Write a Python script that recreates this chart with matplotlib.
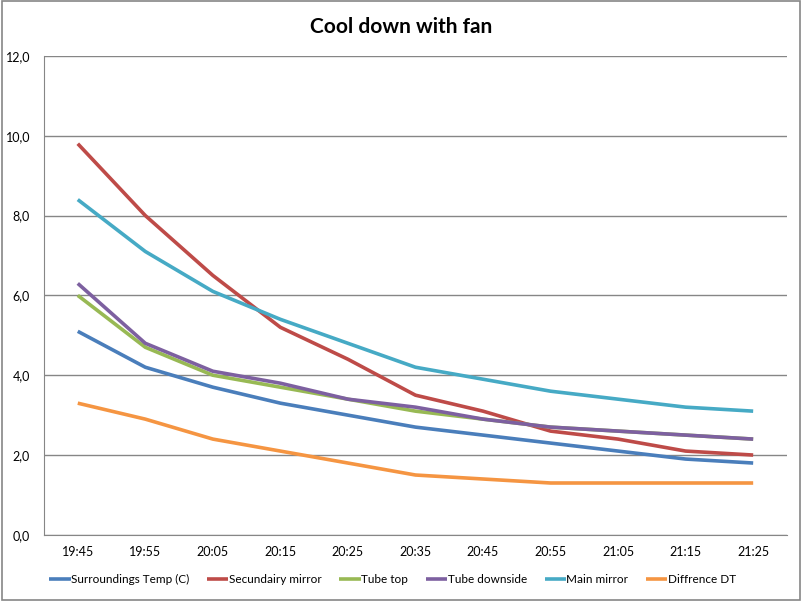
import matplotlib
matplotlib.use("Agg")
import matplotlib.pyplot as plt
from matplotlib.patches import Rectangle

plt.rcParams['font.family'] = ['Lato', 'DejaVu Sans']

times = ["19:45", "19:55", "20:05", "20:15", "20:25", "20:35",
         "20:45", "20:55", "21:05", "21:15", "21:25"]

surroundings = [5.1, 4.2, 3.7, 3.3, 3.0, 2.7, 2.5, 2.3, 2.1, 1.9, 1.8]
secundairy = [9.8, 8.0, 6.5, 5.2, 4.4, 3.5, 3.1, 2.6, 2.4, 2.1, 2.0]
tube_top = [6.0, 4.7, 4.0, 3.7, 3.4, 3.1, 2.9, 2.7, 2.6, 2.5, 2.4]
tube_down = [6.3, 4.8, 4.1, 3.8, 3.4, 3.2, 2.9, 2.7, 2.6, 2.5, 2.4]
main_mirror = [8.4, 7.1, 6.1, 5.4, 4.8, 4.2, 3.9, 3.6, 3.4, 3.2, 3.1]
difference = [3.3, 2.9, 2.4, 2.1, 1.8, 1.5, 1.4, 1.3, 1.3, 1.3, 1.3]

series = [
    ("Surroundings Temp (C)", surroundings, "#4A7EBB"),
    ("Secundairy mirror", secundairy, "#BE4B48"),
    ("Tube top", tube_top, "#98B954"),
    ("Tube downside", tube_down, "#7D60A0"),
    ("Main mirror", main_mirror, "#46AAC5"),
    ("Diffrence DT", difference, "#F59542"),
]

fig = plt.figure(figsize=(8.03, 6.01), dpi=100)
ax = fig.add_axes([0.0548, 0.110, 0.9252, 0.797])

x = list(range(len(times)))
for name, vals, col in series:
    ax.plot(x, vals, color=col, lw=2.6, label=name, solid_capstyle='butt')

ax.set_xlim(-0.5, len(times) - 0.5)
ax.set_ylim(0, 12)
ax.set_yticks([0, 2, 4, 6, 8, 10, 12])
ax.set_yticklabels([f"{v:.1f}".replace(".", ",") for v in [0, 2, 4, 6, 8, 10, 12]])
ax.set_xticks(x)
ax.set_xticklabels(times)
ax.tick_params(length=0, labelsize=9, pad=8)
ax.tick_params(axis='y', pad=10)
ax.grid(axis='y', color='#868686', lw=1)
ax.set_axisbelow(True)
for s in ['top', 'right']:
    ax.spines[s].set_visible(False)
for s in ['left', 'bottom']:
    ax.spines[s].set_color('#868686')

fig.suptitle("Cool down with fan", fontsize=15, fontweight='bold', y=0.972)

fig.legend(loc='center', bbox_to_anchor=(0.489, 0.035), ncol=6, frameon=False,
           fontsize=8.5, handlelength=1.8, handletextpad=0.05, columnspacing=1.5)

fig.patches.append(Rectangle((0.002, 0.002), 0.994, 0.996, transform=fig.transFigure,
                             fill=False, edgecolor='#868686', lw=1.2))

fig.savefig("out.png", dpi=100)
